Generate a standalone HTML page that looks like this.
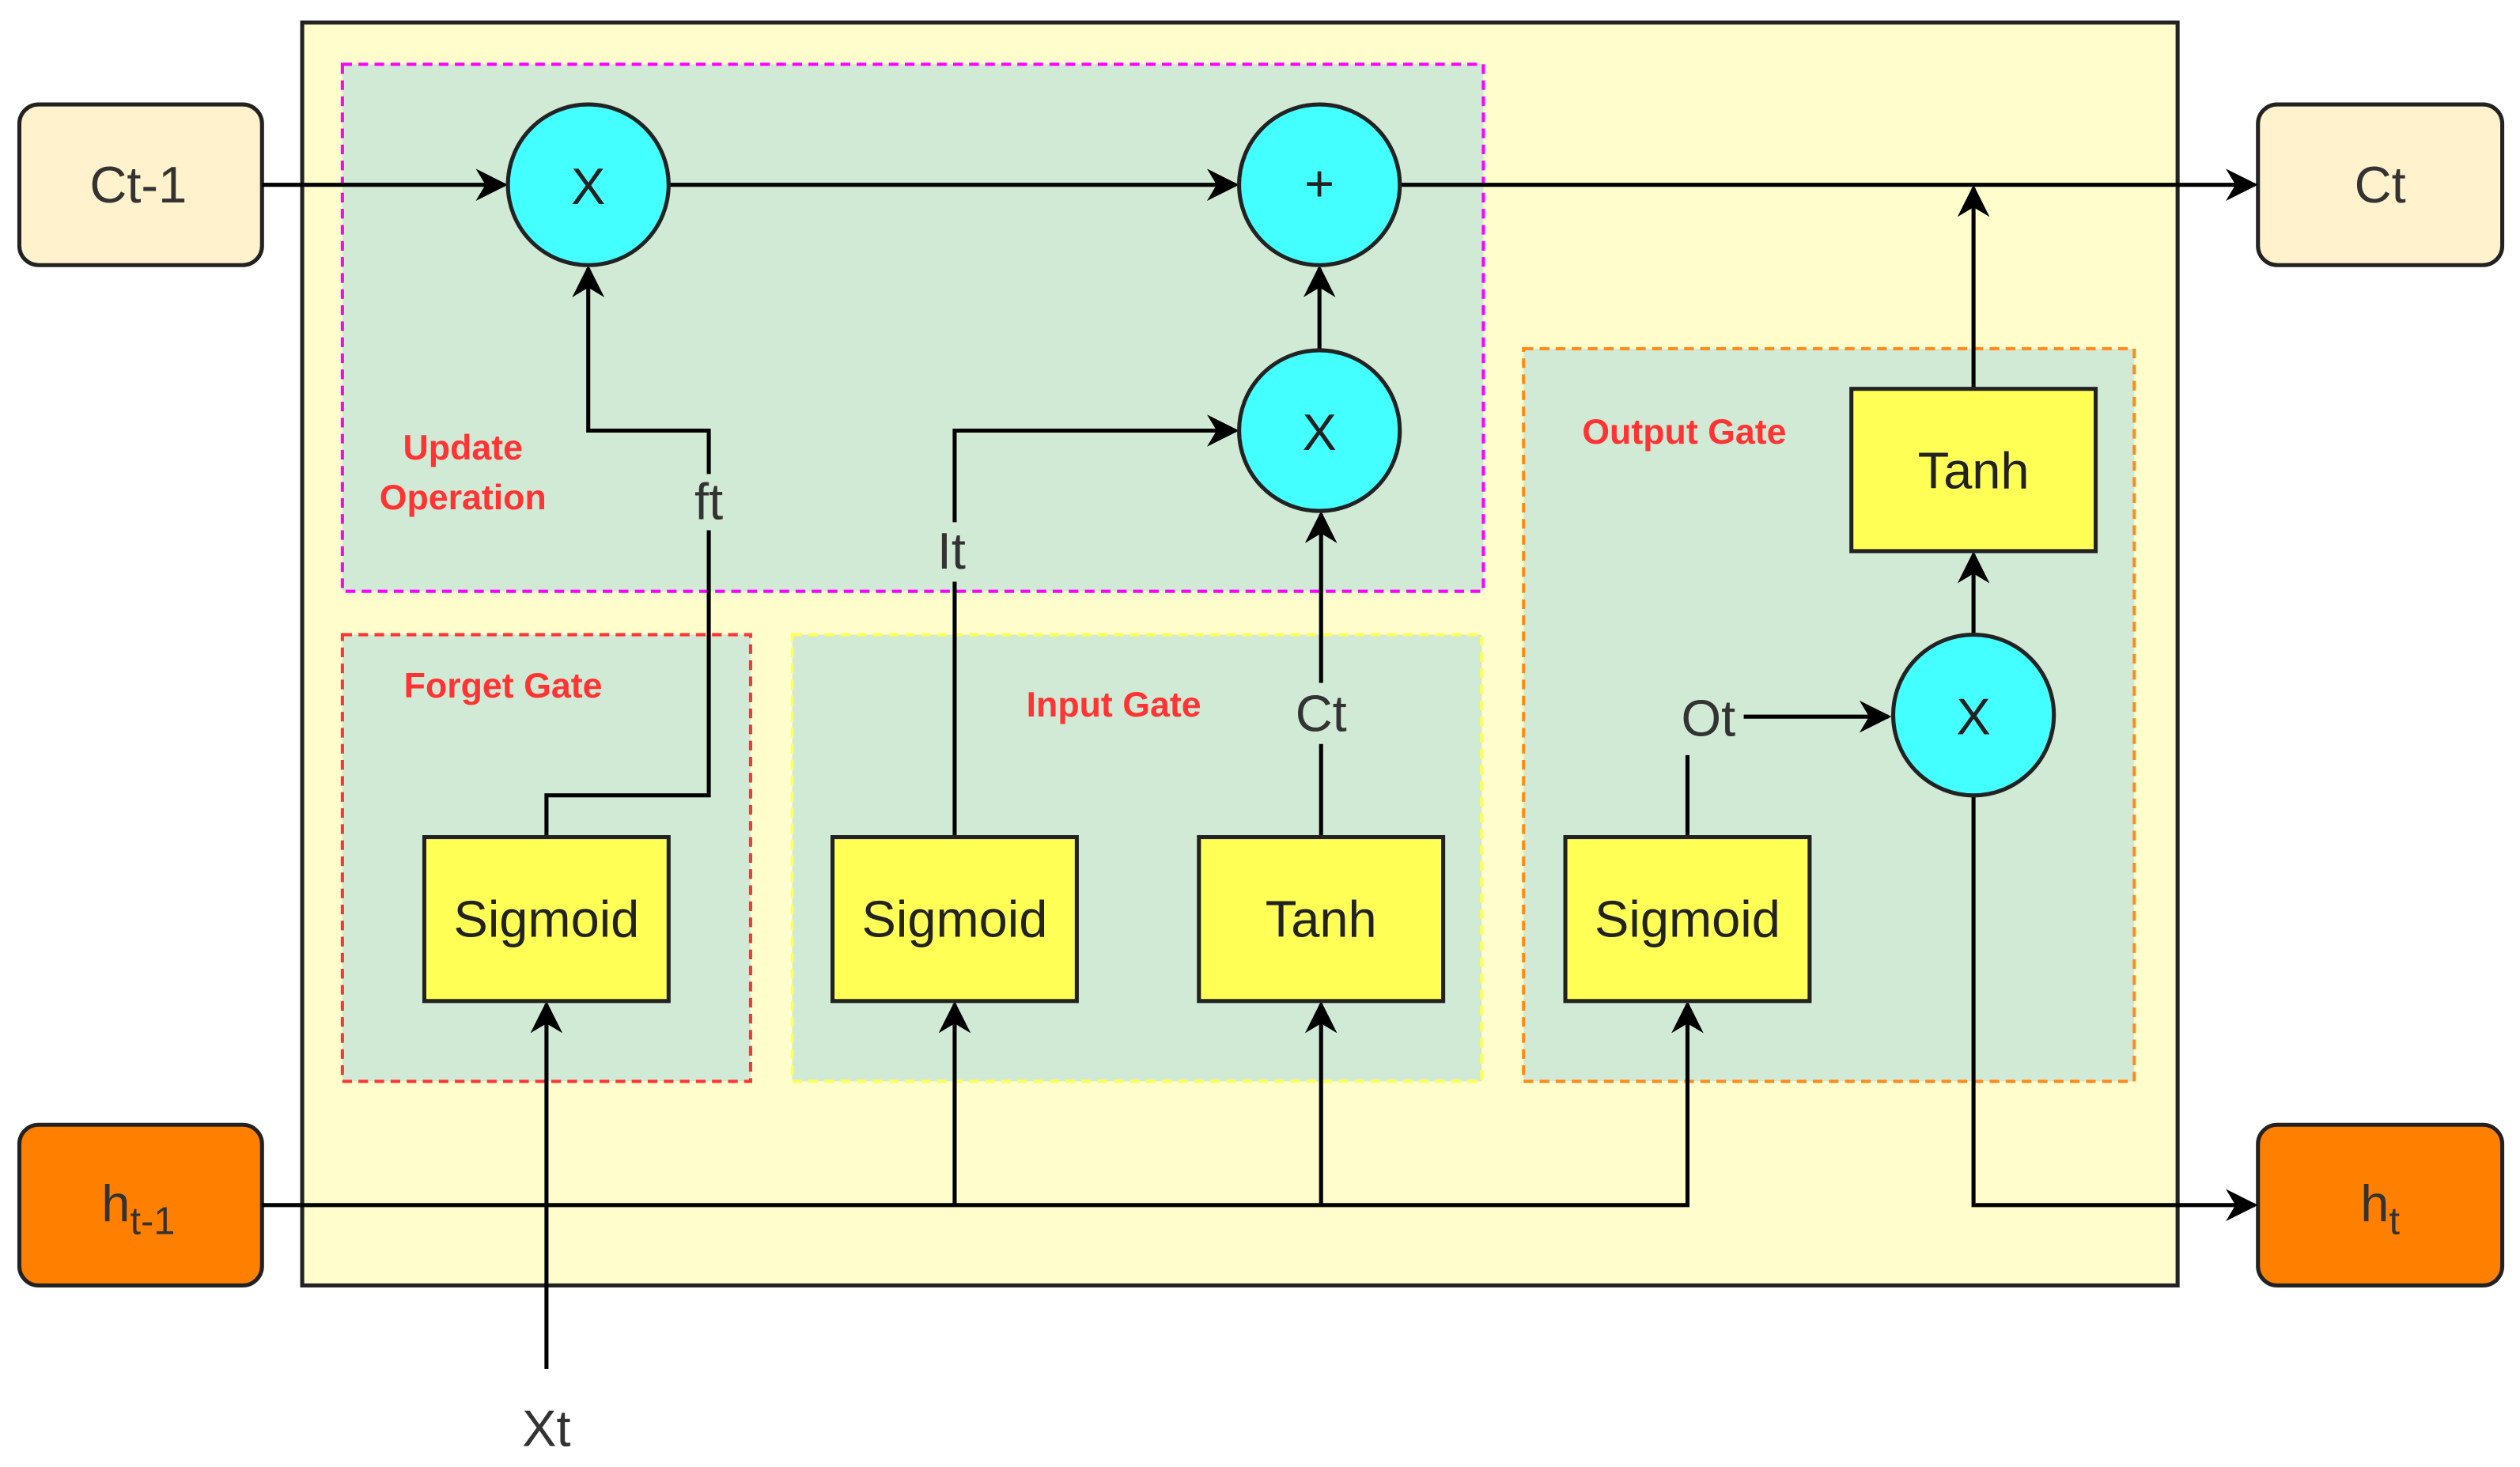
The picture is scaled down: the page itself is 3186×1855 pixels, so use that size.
<!DOCTYPE html>
<html><head><meta charset="utf-8"><style>html,body{margin:0;padding:0;background:#fff}svg{display:block}</style></head>
<body>
<svg width="3186" height="1855" viewBox="0 0 1568 913" xmlns="http://www.w3.org/2000/svg" font-family="Liberation Sans, Arial, sans-serif">
<defs>
<marker id="a" viewBox="0 0 10 10" refX="9" refY="5" markerWidth="7" markerHeight="7" markerUnits="userSpaceOnUse" orient="auto"><path d="M0,0 L10,5 L0,10 L3,5 z" fill="#000"/></marker>
<marker id="b" viewBox="0 0 10 10" refX="9" refY="5" markerWidth="20" markerHeight="20" markerUnits="userSpaceOnUse" orient="auto"><path d="M0,0 L10,5 L0,10 L3,5 z" fill="#000"/></marker>
</defs>
<rect x="188" y="14" width="1167" height="786" fill="#FFFDCC" stroke="#222" stroke-width="2.5"/>
<rect x="213" y="40" width="710" height="328" fill="#D0EAD5" stroke="#FF00FF" stroke-width="2" stroke-dasharray="6,4"/>
<rect x="213" y="395" width="254" height="278" fill="#D0EAD5" stroke="#FF3333" stroke-width="2" stroke-dasharray="6,4"/>
<rect x="493" y="395" width="429" height="278" fill="#D0EAD5" stroke="#FFFF55" stroke-width="2" stroke-dasharray="6,4"/>
<rect x="948" y="217" width="380" height="456" fill="#D0EAD5" stroke="#FF8A1A" stroke-width="2" stroke-dasharray="6,4"/>
<g fill="#FFF2CC" stroke="#222" stroke-width="2.5">
<rect x="12" y="65" width="151" height="100" rx="12"/>
<rect x="1405" y="65" width="152" height="100" rx="12"/>
</g>
<g fill="#FF8000" stroke="#222" stroke-width="2.5">
<rect x="12" y="700" width="151" height="100" rx="12"/>
<rect x="1405" y="700" width="152" height="100" rx="12"/>
</g>
<g fill="none" stroke="#000" stroke-width="2.5">
<path d="M163,115 H314" marker-end="url(#b)"/>
<path d="M416,115 H769" marker-end="url(#b)"/>
<path d="M871,115 H1403" marker-end="url(#b)"/>
<path d="M1228,242 V117" marker-end="url(#b)"/>
<path d="M821,218 V167" marker-end="url(#b)"/>
<path d="M340,521 V495 H441 V330"/>
<path d="M441,295 V268 H366 V167" marker-end="url(#b)"/>
<path d="M594,521 V362"/>
<path d="M594,325 V268 H769" marker-end="url(#b)"/>
<path d="M822,521 V463"/>
<path d="M822,425 V320" marker-end="url(#b)"/>
<path d="M1050,521 V470"/>
<path d="M1085,446 H1175" marker-end="url(#b)"/>
<path d="M1228,395 V345" marker-end="url(#b)"/>
<path d="M1228,495 V750 H1403" marker-end="url(#b)"/>
<path d="M163,750 H1050 V625" marker-end="url(#b)"/>
<path d="M594,750 V625" marker-end="url(#b)"/>
<path d="M822,750 V625" marker-end="url(#b)"/>
<path d="M340,852 V625" marker-end="url(#b)"/>
</g>
<g fill="#44FFFF" stroke="#222" stroke-width="2.5">
<circle cx="366" cy="115" r="50"/>
<circle cx="821" cy="115" r="50"/>
<circle cx="821" cy="268" r="50"/>
<circle cx="1228" cy="445" r="50"/>
</g>
<g fill="#FFFF55" stroke="#222" stroke-width="2.5">
<rect x="264" y="521" width="152" height="102"/>
<rect x="518" y="521" width="152" height="102"/>
<rect x="746" y="521" width="152" height="102"/>
<rect x="974" y="521" width="152" height="102"/>
<rect x="1152" y="242" width="152" height="101"/>
</g>
<g font-size="32" fill="#222" text-anchor="middle">
<text x="366" y="127">X</text>
<text x="821" y="125">+</text>
<text x="821" y="280">X</text>
<text x="1228" y="457">X</text>
<text x="340" y="583">Sigmoid</text>
<text x="594" y="583">Sigmoid</text>
<text x="822" y="583">Tanh</text>
<text x="1050" y="583">Sigmoid</text>
<text x="1228" y="304">Tanh</text>
</g>
<g font-size="32" fill="#333" text-anchor="middle">
<text x="86" y="126">Ct-1</text>
<text x="1481" y="126">Ct</text>
<text x="86" y="760">h<tspan font-size="24" dy="8">t-1</tspan></text>
<text x="1481" y="760">h<tspan font-size="24" dy="8">t</tspan></text>
<text x="441" y="323">ft</text>
<text x="592" y="354">It</text>
<text x="822" y="455">Ct</text>
<text x="1063" y="458">Ot</text>
<text x="340" y="900">Xt</text>
</g>
<g font-size="22" font-weight="bold" fill="#FF3333" text-anchor="middle">
<text x="288" y="286">Update</text>
<text x="288" y="317">Operation</text>
<text x="313" y="434">Forget Gate</text>
<text x="693" y="446">Input Gate</text>
<text x="1048" y="276">Output Gate</text>
</g>
</svg>
</body></html>
